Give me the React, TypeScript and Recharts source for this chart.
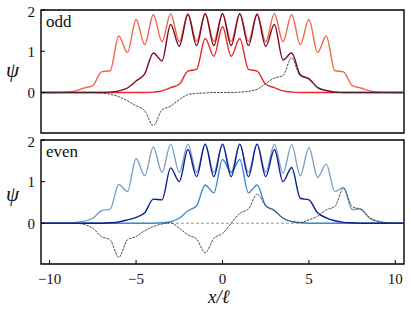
import React from 'react';
import { LineChart, Line, XAxis, YAxis, ReferenceArea, ReferenceLine } from 'recharts';

const xs = [-10.5, -10, -9.5, -9, -8.5, -8, -7.5, -7, -6.5, -6, -5.5, -5, -4.5, -4, -3.5, -3, -2.5, -2, -1.5, -1, -0.5, 0, 0.5, 1, 1.5, 2, 2.5, 3, 3.5, 4, 4.5, 5, 5.5, 6, 6.5, 7, 7.5, 8, 8.5, 9, 9.5, 10, 10.5];

// odd panel
const oddWide = [0, 0, 0, 0.01, 0.04, 0.11, 0.17, 0.5, 0.53, 1.37, 0.97, 1.77, 1.16, 1.89, 1.23, 1.91, 1.23, 1.91, 1.24, 1.91, 1.24, 1.91, 1.24, 1.91, 1.24, 1.91, 1.23, 1.91, 1.23, 1.89, 1.16, 1.77, 0.97, 1.37, 0.53, 0.5, 0.17, 0.11, 0.04, 0.01, 0, 0, 0];
const oddMid = [0, 0, 0, 0, 0, 0, 0, 0, 0.01, 0.04, 0.11, 0.28, 0.45, 0.96, 0.77, 1.65, 1.12, 1.89, 1.14, 1.91, 1.14, 1.91, 1.14, 1.91, 1.14, 1.89, 1.12, 1.65, 0.79, 0.96, 0.43, 0.33, 0.12, 0.05, 0.01, 0, 0, 0, 0, 0, 0, 0, 0];
const oddNarrow = [0, 0, 0, 0, 0, 0, 0, 0, 0, 0, 0, 0, 0, 0.01, 0.04, 0.12, 0.2, 0.52, 0.56, 1.31, 0.88, 1.6, 0.88, 1.31, 0.56, 0.52, 0.2, 0.12, 0.04, 0.01, 0, 0, 0, 0, 0, 0, 0, 0, 0, 0, 0, 0, 0];
const oddDiff = [0, 0, 0, 0, 0, 0, 0, -0.01, -0.04, -0.1, -0.2, -0.32, -0.44, -0.8, -0.42, -0.33, -0.17, -0.05, -0.02, -0.01, 0, 0, 0, 0.01, 0.03, 0.08, 0.22, 0.35, 0.41, 0.84, 0.4, 0.34, 0.13, 0.05, 0.01, 0, 0, 0, 0, 0, 0, 0, 0];

// even panel
const evenWide = [0, 0, 0, 0, 0.02, 0.05, 0.12, 0.3, 0.34, 0.93, 0.76, 1.55, 1.14, 1.83, 1.22, 1.9, 1.22, 1.9, 1.22, 1.9, 1.22, 1.9, 1.22, 1.9, 1.22, 1.9, 1.22, 1.9, 1.2, 1.89, 1.14, 1.82, 1.1, 1.42, 0.76, 0.86, 0.33, 0.34, 0.12, 0.05, 0.01, 0, 0];
const evenMid = [0, 0, 0, 0, 0, 0, 0, 0, 0.01, 0.03, 0.08, 0.14, 0.25, 0.58, 0.56, 1.33, 1.0, 1.77, 1.12, 1.9, 1.12, 1.9, 1.12, 1.9, 1.12, 1.9, 1.12, 1.77, 1.0, 1.34, 0.6, 0.56, 0.25, 0.13, 0.06, 0.02, 0.01, 0, 0, 0, 0, 0, 0];
const evenNarrow = [0, 0, 0, 0, 0, 0, 0, 0, 0, 0, 0, 0, 0, 0, 0.01, 0.04, 0.12, 0.3, 0.42, 0.92, 0.73, 1.53, 1.22, 1.53, 0.73, 0.92, 0.42, 0.31, 0.12, 0.04, 0.01, 0, 0, 0, 0, 0, 0, 0, 0, 0, 0, 0, 0];
const evenDiff = [0, 0, 0, 0, 0, -0.03, -0.12, -0.32, -0.4, -0.82, -0.4, -0.32, -0.18, -0.08, -0.02, 0.01, -0.12, -0.28, -0.38, -0.71, -0.36, -0.25, 0, 0.24, 0.34, 0.7, 0.42, 0.3, 0.13, 0.04, 0.02, 0.08, 0.17, 0.32, 0.4, 0.84, 0.4, 0.33, 0.14, 0.04, 0.01, 0, 0];

const xTicks = [-10, -5, 0, 5, 10];
const yTicks = [0, 1, 2];
const xDomain = [-10.5, 10.5];
const yDomain = [-0.98, 2];

const oddRows = xs.map((x, i) => ({ x, wide: oddWide[i], mid: oddMid[i], narrow: oddNarrow[i], diff: oddDiff[i] }));
const evenRows = xs.map((x, i) => ({ x, wide: evenWide[i], mid: evenMid[i], narrow: evenNarrow[i], diff: evenDiff[i] }));

const FONT = "'Liberation Serif', serif";
const tickStyle = { fontFamily: FONT, fontSize: 15, fill: '#111' };
const fmt = (v: number) => String(v).replace('-', '\u2212');

function Panel({ rows, colors, showX, height, marginBottom, top }: any) {
  return (
    <div style={{ position: 'absolute', left: 0, top }}>
      <LineChart width={411} height={height} data={rows} margin={{ top: 7, right: 7, left: 11, bottom: marginBottom }}>
        <ReferenceArea x1={-10.5} x2={10.5} y1={-0.98} y2={2} fill="none" stroke="#000" strokeWidth={1.4} />
        {showX ? <ReferenceLine y={0} stroke="#999" strokeWidth={1} strokeDasharray="3 2" /> : null}
        <XAxis dataKey="x" type="number" domain={xDomain} ticks={xTicks} allowDataOverflow
          axisLine={false} tickLine={{ stroke: '#000' }} tickSize={-4} tickMargin={13}
          height={showX ? 30 : 0} tick={showX ? tickStyle : false} tickFormatter={fmt} />
        <YAxis type="number" domain={yDomain} ticks={yTicks} allowDataOverflow width={30}
          axisLine={false} tickLine={{ stroke: '#000' }} tickSize={-4} tickMargin={10}
          tick={tickStyle} tickFormatter={fmt} />
        <Line dataKey="wide" type="monotone" stroke={colors[0]} strokeWidth={1.4} dot={false} isAnimationActive={false} />
        <Line dataKey="narrow" type="monotone" stroke={colors[2]} strokeWidth={1.4} dot={false} isAnimationActive={false} />
        <Line dataKey="mid" type="monotone" stroke={colors[1]} strokeWidth={1.4} dot={false} isAnimationActive={false} />
        <Line dataKey="diff" type="monotone" stroke="#333" strokeWidth={0.9} strokeDasharray="2.5 1" dot={false} isAnimationActive={false} />
      </LineChart>
    </div>
  );
}

export default function App() {
  const txt = { position: 'absolute' as const, fontFamily: FONT, color: '#111', lineHeight: 1, whiteSpace: 'nowrap' as const };
  return (
    <div style={{ position: 'absolute', left: 0, top: 0, width: 411, height: 311, background: '#fff' }}>
      <Panel rows={oddRows} colors={['#f4634a', '#7b0a24', '#e8282b']} showX={false} height={140} marginBottom={10} top={3} />
      <Panel rows={evenRows} colors={['#7aa2c9', '#0c1c9a', '#3a8bd0']} showX={true} height={178} marginBottom={17} top={133} />
      <div style={{ ...txt, left: 46, top: 13, fontSize: 17 }}>odd</div>
      <div style={{ ...txt, left: 46, top: 143, fontSize: 17 }}>even</div>
      <div style={{ ...txt, left: 6, top: 60, fontSize: 21, fontStyle: 'italic' }}>ψ</div>
      <div style={{ ...txt, left: 6, top: 184, fontSize: 21, fontStyle: 'italic' }}>ψ</div>
      <div style={{ ...txt, left: 208, top: 287, fontSize: 19, fontStyle: 'italic' }}>x/ℓ</div>
    </div>
  );
}
